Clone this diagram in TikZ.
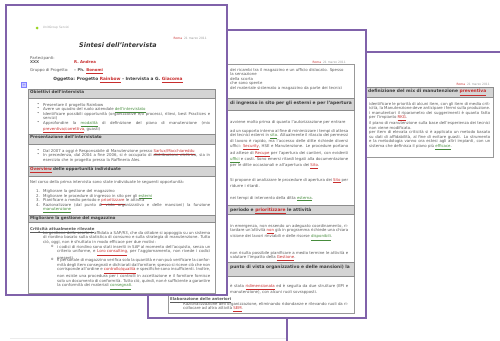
\documentclass[tikz,border=0pt]{standalone}
\usepackage{fontspec}
\setmainfont{DejaVu Sans}
\usetikzlibrary{positioning}
\definecolor{framepurple}{RGB}{128,98,170}
\definecolor{bandgray}{RGB}{212,212,212}
\definecolor{textgray}{RGB}{90,90,90}
\definecolor{headgray}{RGB}{60,60,60}
\definecolor{redword}{RGB}{200,45,45}
\definecolor{greenword}{RGB}{70,140,60}
\newcommand{\docfont}{\fontsize{3.9}{4.5}\selectfont}
\newcommand{\rw}[1]{\textcolor{redword}{\underline{#1}}}
\newcommand{\gw}[1]{\textcolor{greenword}{\underline{#1}}}

\begin{document}
\begin{tikzpicture}[x=1pt, y=-1pt,
    page/.style={draw=framepurple, line width=2.4pt, fill=white},
    docbox/.style={draw=black!40, line width=0.5pt},
    band/.style={draw=black!45, line width=0.5pt, fill=bandgray},
    txt/.style={anchor=north west, inner sep=0pt, text width=#1, align=justify, font=\docfont, text=textgray},
    txt/.default=167pt,
    bul/.style={anchor=north west, inner sep=0pt, font=\docfont, text=textgray},
    hd/.style={anchor=north west, inner sep=0pt, font=\bfseries\fontsize{4.1}{4.5}\selectfont, text=headgray},
    hdbig/.style={anchor=north west, inner sep=0pt, font=\bfseries\fontsize{4.4}{5}\selectfont, text=headgray},
    date/.style={anchor=east, inner sep=0pt, font=\fontsize{3}{3.6}\selectfont, text=black!40}
]
\useasboundingbox (0,0) rectangle (500,340);
\fill[white] (0,0) rectangle (500,340);
\clip (0,0) rectangle (500,340);

% faint shadow under the pages
\draw[black!8, line width=0.6pt] (10,338) -- (290,338);

% Page 3 (back)
\draw[page] (287,52) rectangle (530,360);
\node[date] (p3date) at (490,84) {\textcolor{redword}{Roma}\ \ 21 marzo 2011};
\draw[docbox] (320,87) rectangle (493,157);
\draw[band] (320,87) rectangle (493,97);
\node[hdbig] (p3h1) at (368,89) {definizione del mix di manutenzione \rw{preventiva}};
\node[txt=121pt] (p3t1) at (369,102) {identificare le priorità di alcuni item, con gli item di media criticità, la Manutenzione deve anticipare i fermi sulla produzione.\par
i manutentori il riparametro dei suggerimenti è quanto fatto per l'impianto \rw{RKG}.\par
il piano di manutenzione sulla base dell'esperienza dei tecnici non viene modificato.\par
per item di elevata criticità si è applicato un metodo basato su dati di affidabilità, al fine di evitare guasti. Lo strumento e la metodologia vanno ora estesi agli altri impianti, con un sistema che definisca il piano più \gw{efficace}.};

% Page 2 (middle)
\draw[page] (148,30) rectangle (366,318);
\node[date] (p2date) at (346,62) {\textcolor{redword}{Roma}\ \ 21 marzo 2011};
\draw[docbox] (168,64) rectangle (354,313);
\foreach \ya/\yb in {98/110, 205/214, 262/276}
    \draw[band] (168,\ya) rectangle (354,\yb);
\node[txt=118pt, align=left] (p2t1) at (230,68) {dei ricambi tra il magazzino e un ufficio dislocato. Spesso\\
la sensazione\\
della scorta\\
che sono spente\\
del materiale sistemato a magazzino da parte dei tecnici};
\node[hdbig] (p2h1) at (230,101) {di ingresso in sito per gli esterni e per l'apertura};
\node[txt=118pt] (p2t2) at (230,120) {avviene molto prima di quanto l'autorizzazione per entrare};
\node[txt=118pt] (p2t3) at (230,129) {ad un supporto interno al fine di minimizzare i tempi di attesa dei tecnici esterni in \gw{sito}. Attualmente il rilascio dei permessi di lavoro è rapido, ma l'accesso delle ditte richiede diversi uffici: \rw{Security}, HSE e Manutenzione. Le procedure portano ad attese di \rw{Recupe} per l'apertura dei cantieri, con evidenti \gw{uffici} e costi. Sono emersi ritardi legati alla documentazione per le ditte occasionali e all'apertura dei \rw{Sito}.};
\node[txt=118pt] (p2t4) at (230,178) {Si propone di analizzare le procedure di apertura dei \rw{Sito} per ridurre i ritardi.};
\node[txt=118pt] (p2t5) at (230,196) {nei tempi di intervento della ditta \gw{esterna}.};
\node[hdbig] (p2h2) at (230,207.5) {periodo e \rw{prioritizzare} le attività};
\node[txt=118pt] (p2t6) at (230,224) {in emergenza, non essendo un adeguato coordinamento, ritardare un'attività \rw{non} già in programma richiede una chiara visione dei lavori rinviabili e delle risorse \gw{disponibili}.};
\node[txt=118pt] (p2t7) at (230,251) {non risulta possibile pianificare a medio termine le attività e valutare l'impatto della \rw{Gestione}.};
\node[hdbig] (p2h3) at (230,265) {punto di vista organizzativo e delle mansioni) la};
\node[txt=118pt] (p2t8) at (230,284) {è stata \rw{ridimensionata} ed è seguita da due strutture (EPI e manutenzione), con alcuni ruoli sovrapposti.};
\node[bul, font=\docfont\bfseries] (p2elab) at (170,297.5) {\underline{Elaborazione delle anteriori}};
\node[bul] (p2dot) at (177,302) {•};
\node[txt=165pt] (p2t9) at (183,302) {Razionalizzazione dell'organizzazione, eliminando ridondanze e rilevando ruoli da ricollocare ad altra attività \rw{SEM}.};

% Page 1 (front)
\draw[page] (6,5) rectangle (227,295);
\node[circle, fill=yellow!60!green, minimum size=3pt, inner sep=0pt] (p1logo) at (37,28) {};
\node[anchor=west, inner sep=0pt, font=\fontsize{3}{3.6}\selectfont, text=black!35, right=4pt of p1logo] (p1office) {UnitGroup Servizi};
\node[date] (p1date) at (207,38) {\textcolor{redword}{Roma}\ \ 21 marzo 2011};
\node[inner sep=0pt, font=\bfseries\itshape\fontsize{6.4}{7}\selectfont, text=black!80] (p1title) at (118,45) {Sintesi dell'intervista};
\node[bul] (p1part) at (30,56) {Partecipanti:};
\node[bul, font=\docfont\bfseries] (p1xxx) at (30,60.5) {XXX};
\node[bul, font=\docfont\bfseries, text=redword] (p1andrea) at (74,60.5) {R. Andrea};
\node[bul] (p1group) at (30,68.5) {Gruppo di Progetto:};
\node[bul, font=\docfont\bfseries] (p1bonomi) at (74,68.5) {-- Ph. \rw{Bonomi}};
\node[inner sep=0pt, font=\bfseries\fontsize{4.3}{5}\selectfont, text=headgray] (p1subject) at (118,80) {Oggetto: Progetto \rw{Rainbow} -- Intervista a G. \rw{Giacoma}};
\node[draw=blue!50, fill=blue!20, minimum size=5pt, inner sep=0pt, font=\fontsize{4}{4}\selectfont, text=blue!60] (p1plus) at (24,85) {+};

\draw[docbox] (28,89) rectangle (215,293);
\foreach \ya/\yb in {89/98, 134/144, 166/176, 215/222}
    \draw[band] (28,\ya) rectangle (215,\yb);
\node[hd] (p1h1) at (30,90.5) {Obiettivi dell'intervista};
\node[hd] (p1h2) at (30,135.5) {Presentazione dell'intervistato};
\node[hd] (p1h3) at (30,167.5) {\rw{Overview} delle opportunità individuate};
\node[hd] (p1h4) at (30,216.5) {Migliorare la gestione del magazzino};

% objectives
\foreach \y [count=\i] in {103,107.5,112,121,149,153.5}
    \node[bul] (p1dot\i) at (37,\y) {•};
\node[txt] (p1o1) at (43,103) {Presentare il progetto Rainbow};
\node[txt] (p1o2) at (43,107.5) {Avere un quadro del ruolo aziendale \gw{dell'intervistato}};
\node[txt] (p1o3) at (43,112) {Identificare possibili opportunità (organizzative e/o processi, rilievi, best Practices e servizi)};
\node[txt] (p1o4) at (43,121) {Approfondire la \gw{modalità} di definizione del piano di manutenzione (mix \rw{preventiva/correttiva}, guasti)};

% interviewee
\node[txt] (p1p1) at (43,149) {Dal 2007 a oggi è Responsabile di Manutenzione presso \rw{Sarlux/Macchiareddu}};
\node[txt] (p1p2) at (43,153.5) {In precedenza, dal 2004 a fine 2006, si è occupato di distribuzione elettrica, sia in esercizio che in progetto presso la Raffineria Ales.};

% opportunities
\node[txt=180pt] (p1intro) at (30,180) {Nel corso della prima intervista sono state individuate le seguenti opportunità:};
\foreach \y [count=\i] in {189.5,194,198.5,203}
    \node[bul] (p1num\i) at (36,\y) {\i.};
\node[txt] (p1n1) at (43,189.5) {Migliorare la gestione del magazzino};
\node[txt] (p1n2) at (43,194) {Migliorare le procedure di ingresso in sito per gli \gw{esterni}};
\node[txt] (p1n3) at (43,198.5) {Pianificare a medio periodo e \rw{prioritizzare} le attività};
\node[txt] (p1n4) at (43,203) {Razionalizzare (dal punto di vista organizzativo e delle mansioni) la funzione \gw{manutenzione}};

% warehouse
\node[bul, font=\docfont\bfseries] (p1crit) at (30,227) {\underline{Criticità attualmente rilevate}};
\node[bul] (p1dot7) at (38,231) {•};
\node[txt] (p1c1) at (43,231) {La gestione delle scorte è affidata a SAP/R3, che da ottobre si appoggia su un sistema di riordino basato sulla statistica di consumo e sulla strategia di manutenzione. Tutto ciò, oggi, non è sfruttato in modo efficace per due motivi:};
\node[bul] (p1sub1) at (51,245) {o};
\node[txt=153pt] (p1c2) at (57,245) {i codici di riordino sono stati inseriti in SAP al momento dell'acquisto, senza un criterio uniforme, e \rw{Loro consulting}, per l'aggiornamento, non rivede i codici presenti.};
\node[bul] (p1sub2) at (51,258.5) {o};
\node[txt=153pt] (p1c3) at (57,258.5) {il personale di magazzino verifica solo la quantità e non può verificare la conformità degli item consegnati e dichiarati dal fornitore; spesso si riceve ciò che non corrisponde all'ordine e \rw{controllo/qualità} e specifiche sono insufficienti. Inoltre, non esiste una procedura per i controlli in accettazione e il fornitore fornisce solo un documento di conformità. Tutto ciò, quindi, non è sufficiente a garantire la conformità dei materiali \gw{consegnati}.};
\end{tikzpicture}
\end{document}
